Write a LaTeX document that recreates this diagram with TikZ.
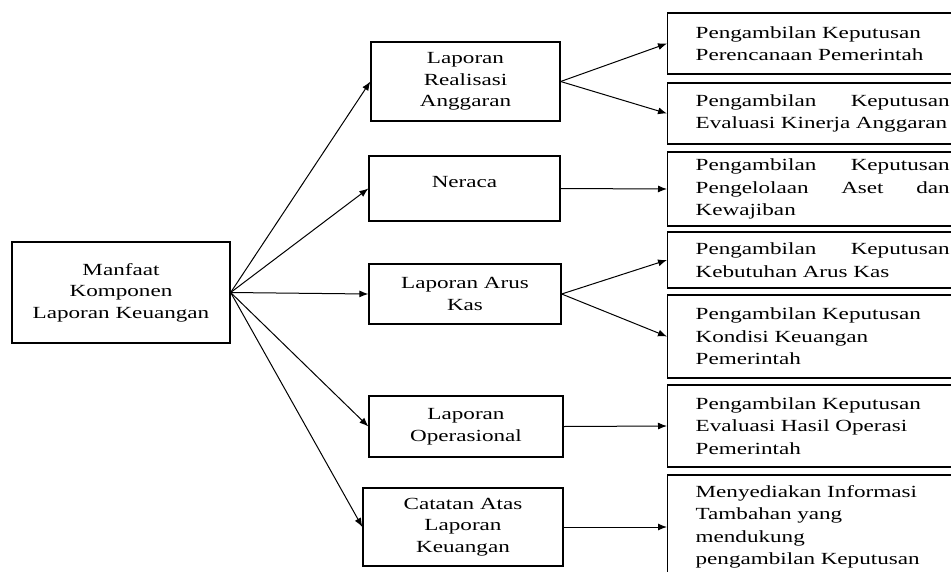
\documentclass[tikz,border=0pt]{standalone}
\usepackage{fontspec}
\setmainfont{Liberation Serif}[FakeStretch=1.36]
\usetikzlibrary{arrows.meta}

\begin{document}
\begin{tikzpicture}[x=1pt,y=-1pt,>={Latex[length=9pt,width=7pt]},
	box/.style={draw, line width=1.3pt, align=center, inner sep=4pt, font=\fontsize{17}{21.5}\selectfont},
	hasil/.style={draw, line width=1.3pt, anchor=west, align=left, text width=254pt, inner xsep=28pt, inner ysep=4pt, font=\fontsize{17}{22.5}\selectfont},
	panah/.style={->, line width=1pt}]
					\useasboundingbox (0,0) rectangle (951,571);
					%% ========================================================
					\node[box, minimum width=218pt, minimum height=101pt] (manfaat) at (121,292.5) {Manfaat\\Komponen\\Laporan Keuangan};

					\node[box, minimum width=189pt, minimum height=79pt] (lra) at (465.5,81.5) {Laporan\\Realisasi\\Anggaran};
					\node[box, minimum width=191pt, minimum height=65pt, text depth=14pt] (neraca) at (464.5,188.5) {Neraca};
					\node[box, minimum width=192pt, minimum height=60pt] (aruskas) at (465,294) {Laporan Arus\\Kas};
					\node[box, minimum width=194pt, minimum height=61pt] (operasional) at (466,426.5) {Laporan\\Operasional};
					\node[box, minimum width=200pt, minimum height=78pt] (calk) at (463,527) {Catatan Atas\\Laporan\\Keuangan};
					%% ========================================================
					\node[hasil, minimum height=61pt] (rencana) at (667,43.5) {Pengambilan Keputusan\\Perencanaan Pemerintah};
					\node[hasil, minimum height=61pt] (kinerja) at (667,113.5) {Pengambilan\hfill Keputusan\\Evaluasi Kinerja Anggaran};
					\node[hasil, minimum height=74pt] (aset) at (667,189) {Pengambilan\hfill Keputusan\\Pengelolaan\hfill Aset\hfill dan\\Kewajiban};
					\node[hasil, minimum height=56pt] (kebutuhan) at (667,260) {Pengambilan\hfill Keputusan\\Kebutuhan Arus Kas};
					\node[hasil, minimum height=83pt] (kondisi) at (667,336.5) {Pengambilan Keputusan\\Kondisi Keuangan\\Pemerintah};
					\node[hasil, minimum height=82pt] (operasi) at (667,426) {Pengambilan Keputusan\\Evaluasi Hasil Operasi\\Pemerintah};
					\node[hasil, minimum height=104pt] (informasi) at (667,527) {Menyediakan Informasi\\Tambahan yang\\mendukung\\pengambilan Keputusan};
					%% ========================================================
					\draw[panah] (manfaat.east) -- (lra.west);
					\draw[panah] (manfaat.east) -- (neraca.west);
					\draw[panah] (manfaat.east) -- (aruskas.west);
					\draw[panah] (manfaat.east) -- (operasional.west);
					\draw[panah] (manfaat.east) -- (calk.west);

					\draw[panah] (lra.east) -- (rencana.west);
					\draw[panah] (lra.east) -- (kinerja.west);
					\draw[panah] (neraca.east) -- (aset.west);
					\draw[panah] (aruskas.east) -- (kebutuhan.west);
					\draw[panah] (aruskas.east) -- (kondisi.west);
					\draw[panah] (operasional.east) -- (operasi.west);
					\draw[panah] (calk.east) -- (informasi.west);
					%% ========================================================
\end{tikzpicture}
\end{document}
